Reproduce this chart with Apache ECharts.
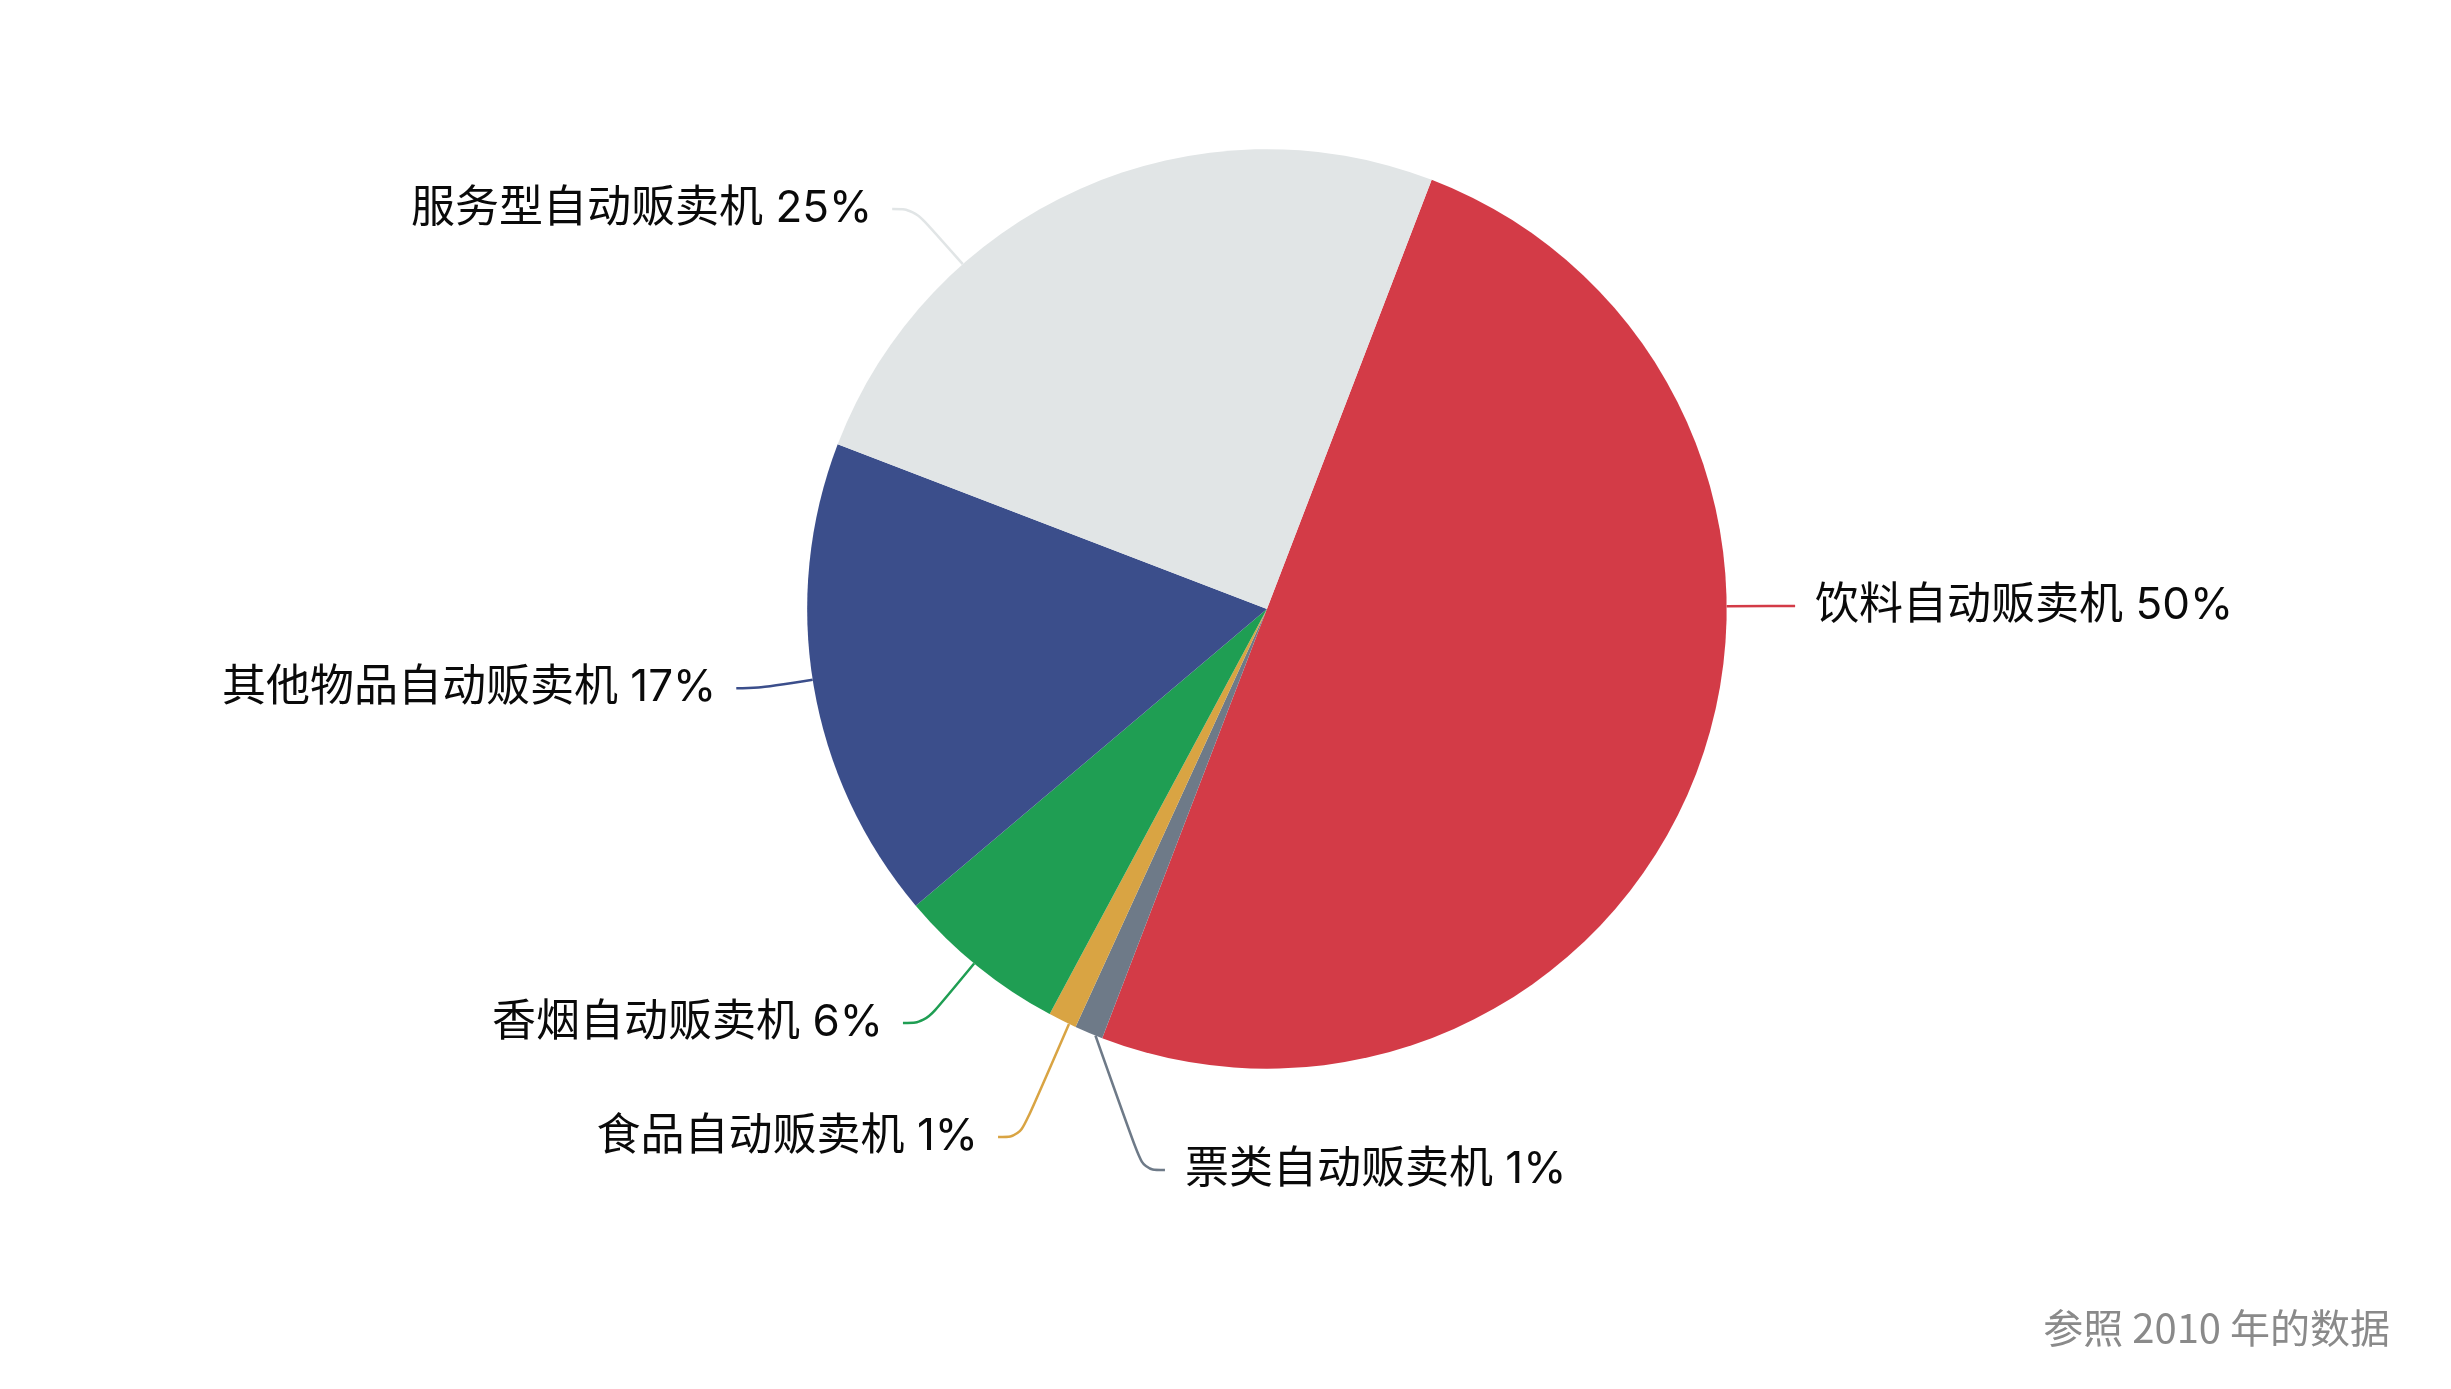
<!DOCTYPE html>
<html>
<head>
<meta charset="utf-8">
<style>
    html, body {
        margin: 0;
        padding: 0;
        overflow: hidden;
        background: #fff;
    }
</style>
</head>
<body>
<div id="pie" style="width:2451px; height:1389px;"></div>
<script src="https://cdn.jsdelivr.net/npm/echarts@6/dist/echarts.min.js"></script>
<script>
    // 2010 年各类自动贩卖机占比
    var categories = ['饮料自动贩卖机', '票类自动贩卖机', '食品自动贩卖机', '香烟自动贩卖机', '其他物品自动贩卖机', '服务型自动贩卖机'];
    var values = [50, 1, 1, 6, 17, 25];
    var colors = ['#d33b47', '#6e7a88', '#d9a443', '#1f9e53', '#3b4e8b', '#e1e5e6'];
    var note = '参照 2010 年的数据';

    // where each label box sits (edge x, middle y, as share of the canvas) and which way it reads
    var labelSpots = [
        {x: 0.7324, y: 0.4362, align: 'left'},
        {x: 0.4753, y: 0.8424, align: 'left'},
        {x: 0.4072, y: 0.8186, align: 'right'},
        {x: 0.3684, y: 0.7365, align: 'right'},
        {x: 0.3004, y: 0.4955, align: 'right'},
        {x: 0.3640, y: 0.1505, align: 'right'}
    ];
    var lineTail = 22;

    var cjk = '"Noto Sans CJK SC", "Noto Sans", sans-serif';
    var labelFont = 'Inter, ' + cjk;
    var chart = echarts.init(document.getElementById('pie'), null, {renderer: 'canvas'});

    var pieData = categories.map(function (name, i) {
        return {name: name, value: values[i], itemStyle: {color: colors[i]}};
    });

    // point on the slice's outer arc closest to p
    function nearestOnSlice(lay, p) {
        var s = Math.min(lay.startAngle, lay.endAngle);
        var e = Math.max(lay.startAngle, lay.endAngle);
        var pad = Math.min((e - s) * 0.25, 0.02);
        var lo = s + pad, hi = e - pad;
        var a = Math.atan2(p[1] - lay.cy, p[0] - lay.cx);
        while (a < s) a += Math.PI * 2;
        while (a >= s + Math.PI * 2) a -= Math.PI * 2;
        if (a > hi) {
            var toHi = a - hi, toLo = (lo + Math.PI * 2) - a;
            a = toHi < toLo ? hi : lo;
        } else if (a < lo) {
            a = lo;
        }
        return [lay.cx + lay.r * Math.cos(a), lay.cy + lay.r * Math.sin(a)];
    }

    chart.setOption({
        animation: false,
        backgroundColor: '#fff',
        graphic: [{
            type: 'text',
            right: 61,
            top: 1308,
            style: {
                text: note,
                fill: '#8a8a8a',
                font: '40px ' + cjk
            }
        }],
        series: [{
            type: 'pie',
            center: ['51.69%', '43.84%'],
            radius: '66.2%',
            startAngle: 69,
            clockwise: true,
            avoidLabelOverlap: false,
            emphasis: {disabled: true},
            data: pieData,
            label: {
                show: true,
                position: 'outside',
                formatter: '{b} {d}%',
                color: '#0a0a0a',
                fontSize: 44,
                fontFamily: labelFont,
                backgroundColor: 'transparent',
                padding: [0, 20]
            },
            labelLine: {
                show: true,
                smooth: 0.4,
                length: 30,
                length2: lineTail,
                lineStyle: {width: 2.5}
            },
            labelLayout: function (params) {
                var s = labelSpots[params.dataIndex];
                var w = chart.getWidth(), h = chart.getHeight();
                var x = s.x * w, y = s.y * h;
                var out = {x: x, y: y, align: s.align, verticalAlign: 'middle'};
                try {
                    var lay = chart.getModel().getSeriesByIndex(0).getData().getItemLayout(params.dataIndex);
                    var dir = s.align === 'left' ? -1 : 1;
                    var p0 = [x, y];
                    var p1 = [x + dir * lineTail, y];
                    var p2 = nearestOnSlice(lay, p1);
                    out.labelLinePoints = [p2, p1, p0];
                } catch (err) {
                    // keep the library's own guide line
                }
                return out;
            }
        }]
    });
</script>
</body>
</html>
